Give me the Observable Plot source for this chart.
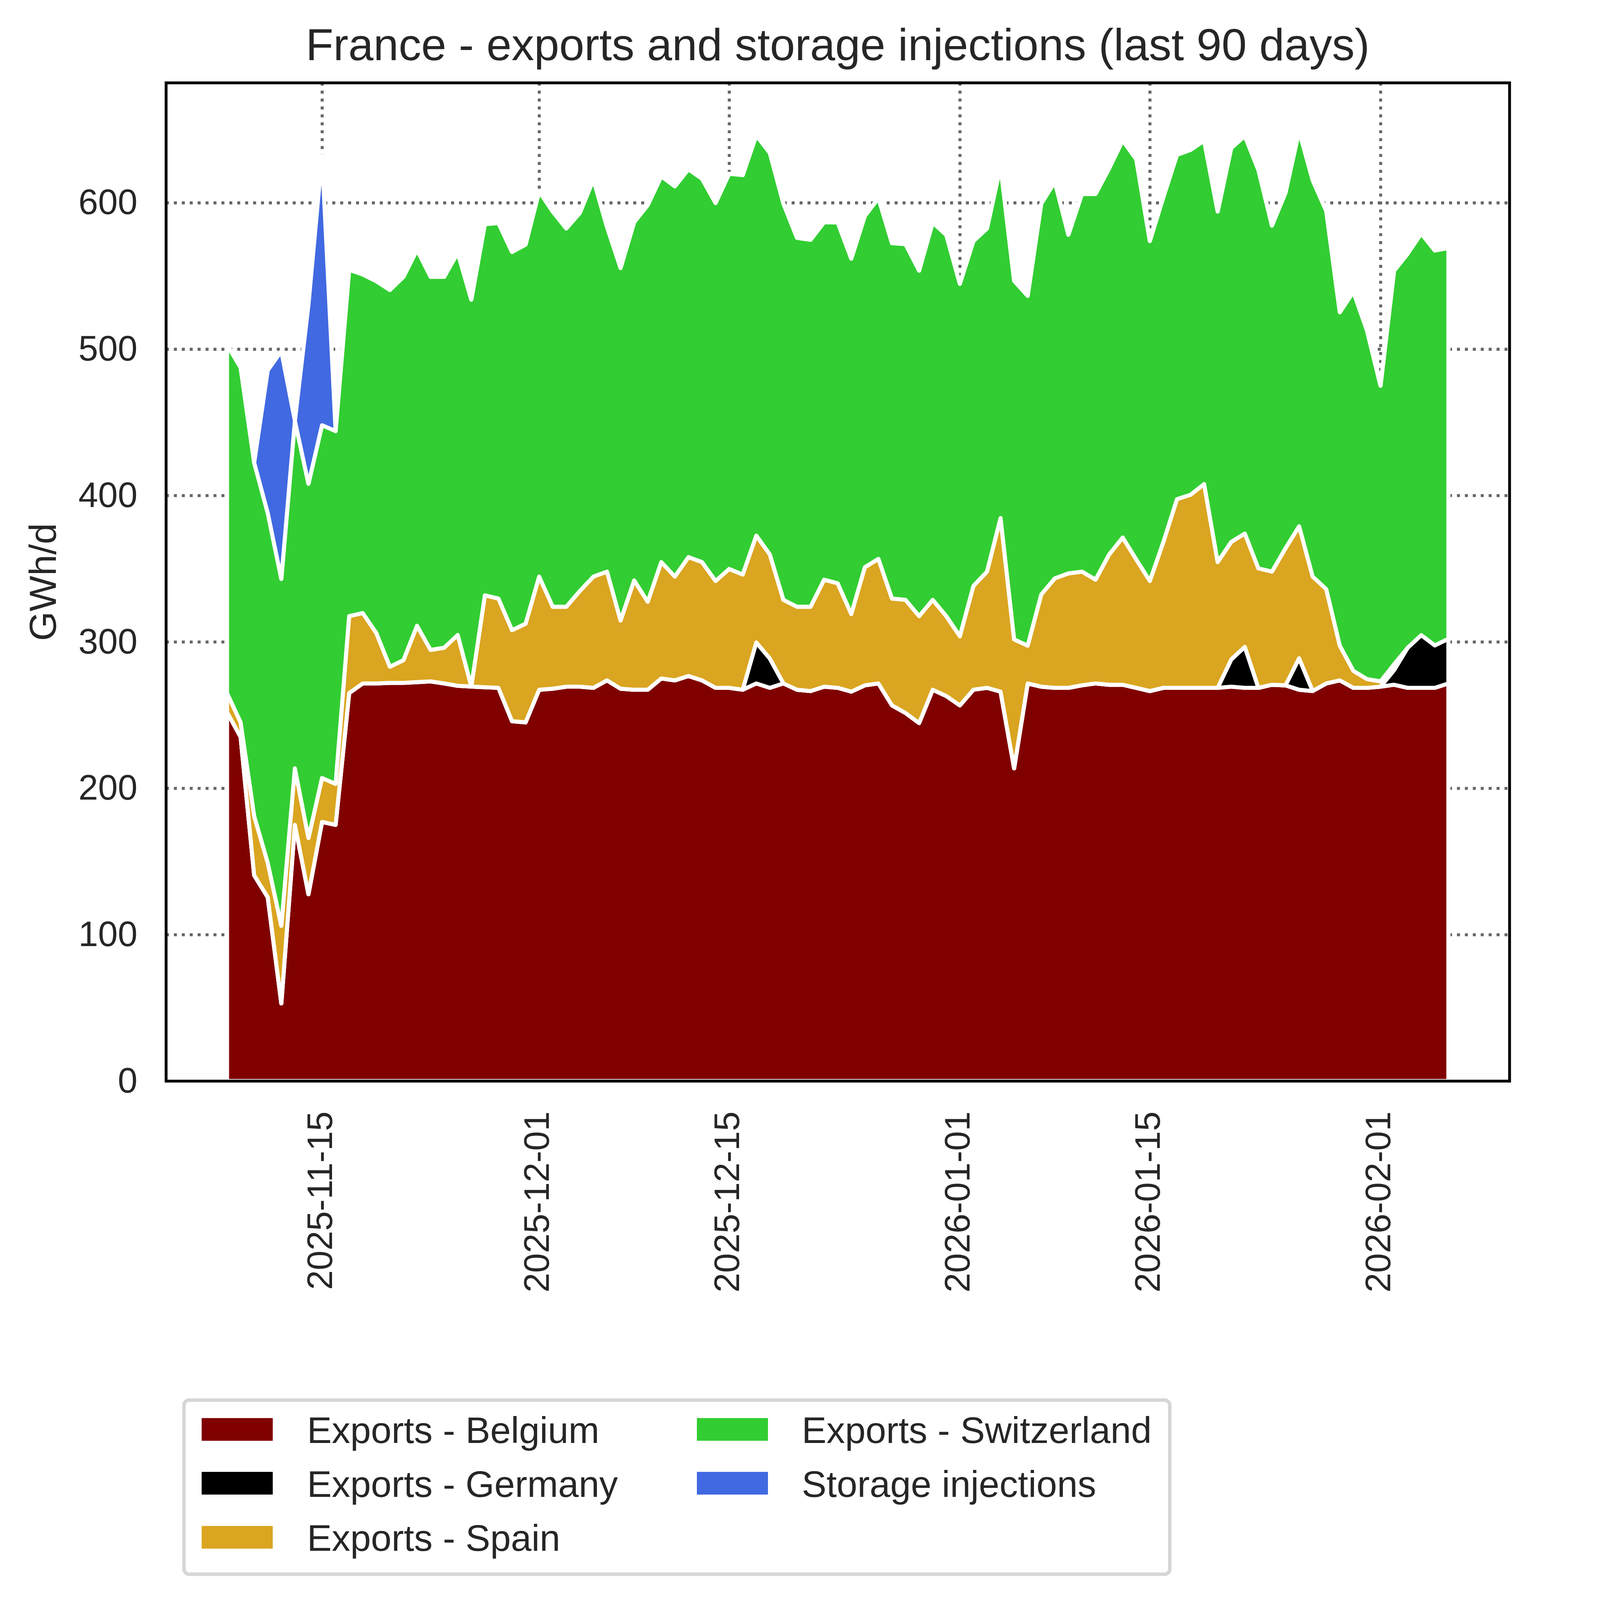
<!DOCTYPE html>
<html>
<head>
<meta charset="utf-8">
<script src="https://cdn.jsdelivr.net/npm/d3@7"></script>
<script src="https://cdn.jsdelivr.net/npm/@observablehq/plot@0.6"></script>
<style>
html, body { margin: 0; padding: 0; background: #ffffff; overflow: hidden; }
#root { position: absolute; left: 0; top: 0; width: 5672px; height: 5919px; overflow: hidden;
  transform-origin: 0 0;
  font-family: "Liberation Sans", Arial, sans-serif; color: #262626; background: #ffffff; }
#root svg { position: absolute; left: 0; top: 0; }
.ttl { position: absolute; white-space: nowrap; }
</style>
</head>
<body>
<div id="root"></div>
<script>
// ---------------- data ----------------
const chartTitle = "France - exports and storage injections (last 90 days)";
const yLabel = "GWh/d";
const startDate = "2025-11-08";
const seriesNames = ["Exports - Belgium", "Exports - Germany", "Exports - Spain", "Exports - Switzerland", "Storage injections"];
const seriesColors = ["#800000", "#000000", "#DAA520", "#32CD32", "#4169E1"];
const yTicks = [0, 100, 200, 300, 400, 500, 600];
const xTickLabels = ["2025-11-15", "2025-12-01", "2025-12-15", "2026-01-01", "2026-01-15", "2026-02-01"];

const belgium = [
  252, 235, 140.5, 125.5, 53, 175, 127.6, 177, 175, 265,
  271.6, 271.6, 272, 272, 272.5, 273, 271.6, 270, 269.5, 269,
  268.6, 245.8, 245, 267.3, 268, 269.4, 269.4, 268.6, 273.7, 268,
  267.3, 267.3, 275, 273.7, 276.7, 273.7, 268.6, 268.6, 267.3, 271.6,
  268.6, 271.6, 267.3, 266.4, 269.4, 268.6, 266, 270.3, 271.6, 256.6,
  251.4, 244.5, 267.3, 263, 256.6, 267.3, 268.6, 266, 213.6, 271.6,
  269.4, 268.6, 268.6, 270.3, 271.6, 270.7, 270.7, 268.6, 266.4, 268.6,
  268.6, 268.6, 268.6, 268.6, 269.4, 268.6, 268.6, 270.7, 270.3, 267.3,
  266.4, 271.6, 273.7, 268.6, 268.6, 269.4, 270.7, 268.6, 268.6, 268.6, 271.6
];
const germany = [
  0, 0, 0, 0, 0, 0, 0, 0, 0, 0,
  0, 0, 0, 0, 0, 0, 0, 0, 0, 0,
  0, 0, 0, 0, 0, 0, 0, 0, 0, 0,
  0, 0, 0, 0, 0, 0, 0, 0, 0, 28,
  20, 0, 0, 0, 0, 0, 0, 0, 0, 0,
  0, 0, 0, 0, 0, 0, 0, 0, 0, 0,
  0, 0, 0, 0, 0, 0, 0, 0, 0, 0,
  0, 0, 0, 0, 18.6, 28, 0, 0, 0, 21.5,
  0, 0, 0, 0, 0, 0, 10, 27.4, 36, 29, 30.5
];
const spain = [
  13, 10, 40.5, 23.5, 53, 38.6, 38.4, 30, 28, 52.6,
  48.1, 34.4, 11, 15.5, 38.5, 21.5, 24.4, 34.7, 0, 62.8,
  61, 62.2, 67.4, 77.3, 56, 54.6, 65.4, 76, 74.3, 46.6,
  74.7, 60.1, 79.5, 70.9, 81.2, 80.8, 73, 81.2, 78.7, 73,
  71.1, 57.1, 56.7, 57.6, 73.1, 71.4, 53, 80.7, 85.1, 73,
  77.3, 73.1, 61.4, 54.6, 47.2, 70.9, 79.4, 118.6, 88.1, 25.8,
  63, 74.8, 78.2, 77.7, 70.9, 89, 100.6, 87.7, 75.2, 99.7,
  128.9, 131.9, 139.2, 85.9, 80.3, 77.4, 81.6, 77.3, 93.7, 90.2,
  78.2, 64.4, 23.7, 11.6, 6, 3.6, 4, 0, 0, 0, 0
];
const switzerland = [
  238, 242.4, 241.4, 239, 237, 237.4, 242, 241, 241, 236.6,
  231.3, 240.4, 257.4, 261.9, 256.9, 254.9, 253.4, 261.1, 264.3, 253.6,
  256.5, 258.4, 259, 263.1, 270, 258.4, 258.3, 271.3, 235.4, 240.8,
  244.7, 271, 263.6, 266.6, 265, 261.9, 258.2, 270, 272.9, 273.4,
  274.3, 270.7, 252, 250.7, 244.2, 246.6, 242.8, 240, 246.5, 242.8,
  243, 236, 257.8, 260.4, 240.8, 235.6, 234.4, 240.3, 245, 239,
  267, 270.9, 231.3, 258, 263.5, 263.7, 271.3, 273.4, 232.2, 235.6,
  235.2, 235.6, 234.6, 239.5, 269.1, 271.6, 272.2, 236.4, 242.9, 270,
  270.8, 258.4, 227.8, 259, 238.2, 202, 268.9, 269.2, 274.4, 269.8, 267
];
const storage = [
  0, 0, 0, 97.5, 155.6, 0, 122.4, 184, 0, 0,
  0, 0, 0, 0, 0, 0, 0, 0, 0, 0,
  0, 0, 0, 0, 0, 0, 0, 0, 0, 0,
  0, 0, 0, 0, 0, 0, 0, 0, 0, 0,
  0, 0, 0, 0, 0, 0, 0, 0, 0, 0,
  0, 0, 0, 0, 0, 0, 0, 0, 0, 0,
  0, 0, 0, 0, 0, 0, 0, 0, 0, 0,
  0, 0, 0, 0, 0, 0, 0, 0, 0, 0,
  0, 0, 0, 0, 0, 0, 0, 0, 0, 0, 0
];

// ---------------- build ----------------
const seriesValues = [belgium, germany, spain, switzerland, storage];
const t0 = new Date(startDate + "T00:00:00Z");
const dates = belgium.map((_, i) => d3.utcDay.offset(t0, i));
const tidy = [];
seriesNames.forEach((name, s) => {
  seriesValues[s].forEach((v, i) => tidy.push({date: dates[i], series: name, value: v}));
});
const tickDates = xTickLabels.map(s => new Date(s + "T00:00:00Z"));
const xDomain = [d3.utcHour.offset(dates[0], -108), d3.utcHour.offset(dates[dates.length - 1], 108)];
const FONT = "'Liberation Sans', Arial, sans-serif";

const W = 5672, H = 4900, PAGE_H = 5919;
const mT = 306, mB = 901, mL = 614, mR = 88;
const dotted = {stroke: "#666666", strokeOpacity: 1, strokeWidth: 11, strokeDasharray: "11,18.3"};

const chart = Plot.plot({
  width: W, height: H,
  marginTop: mT, marginBottom: mB, marginLeft: mL, marginRight: mR,
  style: {fontFamily: FONT, color: "#262626", background: "transparent", overflow: "visible"},
  x: {type: "utc", domain: xDomain},
  y: {domain: [0, 682]},
  color: {domain: seriesNames, range: seriesColors},
  marks: [
    Plot.gridY(yTicks.filter(d => d > 0), dotted),
    Plot.gridX(tickDates, dotted),
    Plot.areaY(tidy, {x: "date", y: "value", z: "series", fill: "series", order: seriesNames,
      stroke: "white", strokeWidth: 15, strokeLinejoin: "round"}),
    Plot.axisY(yTicks, {tickSize: 0, tickPadding: 106, fontSize: 131, label: null}),
    Plot.axisX(tickDates, {tickSize: 0, tickPadding: 112, tickRotate: -90, fontSize: 131,
      tickFormat: d3.utcFormat("%Y-%m-%d"), label: null, dx: -6}),
    Plot.text([yLabel], {frameAnchor: "left", text: d => d, rotate: -90, dx: -452,
      fontSize: 140, textAnchor: "middle", lineAnchor: "middle"}),
    Plot.frame({stroke: "black", strokeWidth: 10.5})
  ]
});

const root = document.getElementById("root");
root.appendChild(chart);

// title
const title = document.createElement("div");
title.className = "ttl";
title.textContent = chartTitle;
Object.assign(title.style, {left: mL + "px", width: (W - mL - mR) + "px", textAlign: "center",
  top: (222 - 0.8465 * 167) + "px", fontSize: "167px", lineHeight: "167px"});
root.appendChild(title);

// legend
const frame = document.createElement("div");
Object.assign(frame.style, {position: "absolute", left: "674px", top: "5173px", width: "3660px", height: "657px",
  boxSizing: "border-box", border: "13px solid #d6d6d6", borderRadius: "26px", background: "#ffffff"});
root.appendChild(frame);
const colX = [746, 2578], textX = [1136, 2966], rowY = [5288, 5487, 5687];
const LF = 137;
seriesNames.forEach((name, i) => {
  const col = Math.floor(i / 3), row = i % 3;
  const sw = document.createElement("div");
  Object.assign(sw.style, {position: "absolute", left: colX[col] + "px", top: (rowY[row] - 42) + "px",
    width: "263px", height: "84px", background: seriesColors[i]});
  root.appendChild(sw);
  const tx = document.createElement("div");
  tx.className = "ttl";
  tx.textContent = name;
  Object.assign(tx.style, {left: textX[col] + "px", top: (rowY[row] + 50 - 0.8465 * LF) + "px",
    fontSize: LF + "px", lineHeight: LF + "px"});
  root.appendChild(tx);
});

// fit the 5672 x 5919 drawing into the actual viewport
function fit() {
  const vw = window.innerWidth || document.documentElement.clientWidth || W;
  const vh = window.innerHeight || document.documentElement.clientHeight || PAGE_H;
  let s = Math.min(vw / W, vh / PAGE_H);
  if (!isFinite(s) || s <= 0) s = 1;
  root.style.transform = s === 1 ? "" : `scale(${s})`;
}
fit();
window.addEventListener("resize", fit);
</script>
</body>
</html>
